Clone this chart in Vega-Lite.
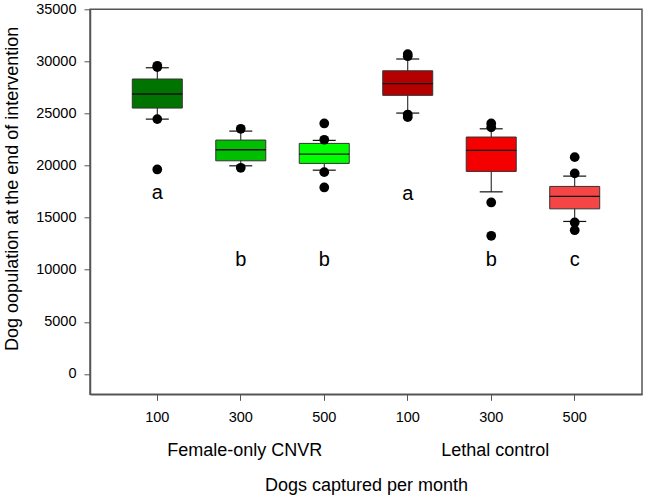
{
  "$schema": "https://vega.github.io/schema/vega-lite/v6.json",
  "width": 552,
  "height": 385,
  "autosize": "none",
  "padding": {"left": 90, "top": 9.3, "right": 3, "bottom": 104.7},
  "background": "white",
  "config": {
    "view": {"stroke": "#555555", "strokeWidth": 1.5},
    "font": "Liberation Sans",
    "axis": {"grid": false, "domainColor": "#555555", "domainWidth": 1.5, "tickColor": "#555555", "tickSize": 6, "labelColor": "black", "titleColor": "black", "labelFont": "Liberation Sans", "titleFont": "Liberation Sans", "labelFontSize": 14.5, "titleFontSize": 18, "titleFontWeight": "normal"}
  },
  "datasets": {
    "boxes": [
      {"key": "F100", "q1": 25520, "med": 26870, "q3": 28310, "lo": 24460, "hi": 29390, "col": "F100"},
      {"key": "F300", "q1": 20460, "med": 21520, "q3": 22450, "lo": 19980, "hi": 23310, "col": "F300"},
      {"key": "F500", "q1": 20210, "med": 21100, "q3": 22130, "lo": 19560, "hi": 22420, "col": "F500"},
      {"key": "L100", "q1": 26740, "med": 27860, "q3": 29100, "lo": 25040, "hi": 30230, "col": "L100"},
      {"key": "L300", "q1": 19440, "med": 21460, "q3": 22740, "lo": 17480, "hi": 23530, "col": "L300"},
      {"key": "L500", "q1": 15850, "med": 17040, "q3": 18000, "lo": 14640, "hi": 18990, "col": "L500"}
    ],
    "outliers": [
      {"key": "F100", "v": 29580}, {"key": "F100", "v": 29450}, {"key": "F100", "v": 24460}, {"key": "F100", "v": 19630},
      {"key": "F300", "v": 23530}, {"key": "F300", "v": 19790},
      {"key": "F500", "v": 24040}, {"key": "F500", "v": 22480}, {"key": "F500", "v": 19370}, {"key": "F500", "v": 17900},
      {"key": "L100", "v": 30700}, {"key": "L100", "v": 30500}, {"key": "L100", "v": 24900}, {"key": "L100", "v": 24650},
      {"key": "L300", "v": 24050}, {"key": "L300", "v": 23670}, {"key": "L300", "v": 16460}, {"key": "L300", "v": 13260},
      {"key": "L500", "v": 20810}, {"key": "L500", "v": 19250}, {"key": "L500", "v": 14540}, {"key": "L500", "v": 13800}
    ],
    "letters": [
      {"key": "F100", "v": 16750, "t": "a"},
      {"key": "F300", "v": 10400, "t": "b"},
      {"key": "F500", "v": 10400, "t": "b"},
      {"key": "L100", "v": 16700, "t": "a"},
      {"key": "L300", "v": 10400, "t": "b"},
      {"key": "L500", "v": 10400, "t": "c"}
    ],
    "groups": [
      {"key": "F300", "v": -7420, "t": "Female-only CNVR"},
      {"key": "L300", "v": -7420, "t": "Lethal control"}
    ]
  },
  "encoding": {
    "x": {
      "field": "key", "type": "nominal",
      "scale": {"domain": ["F100", "F300", "F500", "L100", "L300", "L500"], "paddingInner": 0, "paddingOuter": 0.306},
      "axis": {"title": "Dogs captured per month", "labelAngle": 0, "labelPadding": 10, "titlePadding": 53, "labelExpr": "substring(datum.value, 1)"}
    }
  },
  "layer": [
    {
      "data": {"name": "boxes"},
      "mark": {"type": "rule", "color": "#111111", "strokeWidth": 1},
      "encoding": {
        "y": {"field": "lo", "type": "quantitative", "scale": {"domain": [-1950, 35000], "nice": false, "zero": false},
          "axis": {"title": "Dog oopulation at the end of intervention", "values": [0, 5000, 10000, 15000, 20000, 25000, 30000, 35000], "format": "d", "labelPadding": 8, "titlePadding": 14, "titleY": 179}},
        "y2": {"field": "hi"}
      }
    },
    {
      "data": {"name": "boxes"},
      "mark": {"type": "tick", "color": "#111111", "thickness": 1.2, "size": 23, "orient": "horizontal", "opacity": 1},
      "encoding": {"y": {"field": "lo", "type": "quantitative"}}
    },
    {
      "data": {"name": "boxes"},
      "mark": {"type": "tick", "color": "#111111", "thickness": 1.2, "size": 23, "orient": "horizontal", "opacity": 1},
      "encoding": {"y": {"field": "hi", "type": "quantitative"}}
    },
    {
      "data": {"name": "boxes"},
      "mark": {"type": "bar", "size": 50, "stroke": "#333333", "strokeWidth": 1},
      "encoding": {
        "y": {"field": "q1", "type": "quantitative"},
        "y2": {"field": "q3"},
        "fill": {"field": "col", "type": "nominal", "legend": null,
          "scale": {"domain": ["F100", "F300", "F500", "L100", "L300", "L500"], "range": ["#007300", "#00BE00", "#00FF00", "#B50000", "#F50000", "#F54545"]}}
      }
    },
    {
      "data": {"name": "boxes"},
      "mark": {"type": "tick", "color": "#111111", "thickness": 1.3, "size": 50, "orient": "horizontal", "opacity": 1},
      "encoding": {"y": {"field": "med", "type": "quantitative"}}
    },
    {
      "data": {"name": "outliers"},
      "mark": {"type": "circle", "color": "black", "opacity": 1, "size": 95},
      "encoding": {"y": {"field": "v", "type": "quantitative"}}
    },
    {
      "data": {"name": "letters"},
      "mark": {"type": "text", "fontSize": 20, "baseline": "alphabetic", "align": "center", "color": "black", "font": "Liberation Sans"},
      "encoding": {"y": {"field": "v", "type": "quantitative"}, "text": {"field": "t"}}
    },
    {
      "data": {"name": "groups"},
      "mark": {"type": "text", "fontSize": 18, "baseline": "middle", "align": "center", "dx": 4, "color": "black", "font": "Liberation Sans"},
      "encoding": {"y": {"field": "v", "type": "quantitative"}, "text": {"field": "t"}}
    }
  ]
}
